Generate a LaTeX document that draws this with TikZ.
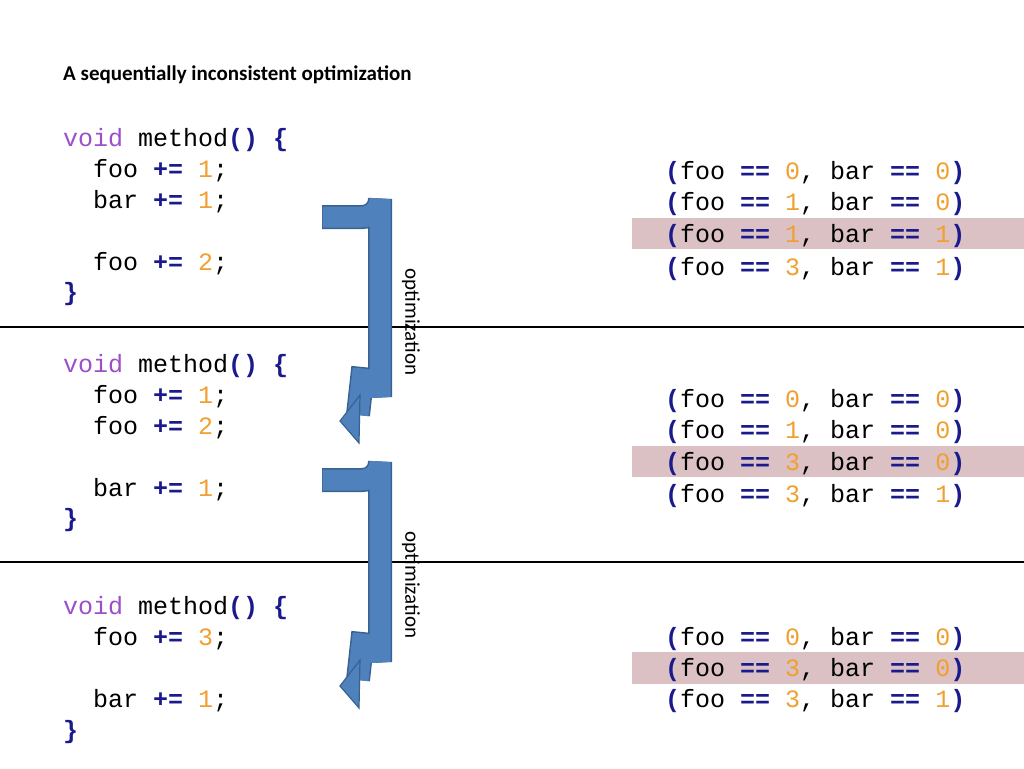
\documentclass[tikz,border=0pt]{standalone}
\usepackage{fontspec}
\setmainfont{Carlito}
\newfontfamily\codefont{Liberation Mono}
\definecolor{kwpurple}{HTML}{9B4FC8}
\definecolor{opblue}{HTML}{1A1A8C}
\definecolor{numorange}{HTML}{F0A030}
\definecolor{hlpink}{HTML}{DBC0C4}
\definecolor{arrowblue}{HTML}{4F81BD}
\definecolor{arrowedge}{HTML}{3A6290}
\newcommand{\kw}[1]{\textcolor{kwpurple}{#1}}
\newcommand{\op}[1]{\textcolor{opblue}{\bfseries #1}}
\newcommand{\nm}[1]{\textcolor{numorange}{#1}}
\newcommand{\ind}{\hspace*{30pt}}
\newcommand{\st}[2]{\op{(}foo \op{==} \nm{#1}, bar \op{==} \nm{#2}\op{)}}
\tikzset{
  code/.style={anchor=base west, inner sep=0pt, font=\codefont\fontsize{25}{25}\selectfont},
  highlight/.style={fill=hlpink, draw=none},
  divider/.style={line width=1.5pt},
  label/.style={font=\fontsize{21}{21}\selectfont, rotate=-90, inner sep=0pt}
}
\newcommand{\bentarrow}[2]{%
  \draw[arrowedge, line width=24pt] (322,#1) -- (362,#1) arc[start angle=90, end angle=0, radius=18] -- (380,#2-18) arc[start angle=0, end angle=-90, radius=18] -- (358,#2);
  \draw[arrowblue, line width=21pt] (322.5,#1) -- (362,#1) arc[start angle=90, end angle=0, radius=18] -- (380,#2-18) arc[start angle=0, end angle=-90, radius=18] -- (358,#2);
  \filldraw[fill=arrowblue, draw=arrowedge, line width=1.2pt] (340,#2+6) -- (360,#2-20) -- (359,#2+28) -- cycle;
}
\begin{document}
\begin{tikzpicture}[x=1pt, y=-1pt]
\useasboundingbox (0,0) rectangle (1024,768);
% highlighted states
\fill[highlight] (632,218) rectangle (1024,249);
\fill[highlight] (632,446) rectangle (1024,477);
\fill[highlight] (632,652) rectangle (1024,684);
% dividers
\draw[divider] (0,327) -- (1024,327);
\draw[divider] (0,562) -- (1024,562);
% arrows
\bentarrow{217}{415}
\bentarrow{480}{680}
\node[label] (opt1) at (411,322) {optimization};
\node[label] (opt2) at (411,585) {optimization};
% title
\node[anchor=base west, inner sep=0pt, font=\bfseries\fontsize{21}{21}\selectfont] (title) at (63,81) {A sequentially inconsistent optimization};
% first method
\node[code] (a1) at (63,146) {\kw{void} method\op{()} \op{\{}};
\node[code] (a2) at (63,177) {\ind foo \op{+=} \nm{1};};
\node[code] (a3) at (63,208) {\ind bar \op{+=} \nm{1};};
\node[code] (a4) at (63,270) {\ind foo \op{+=} \nm{2};};
\node[code] (a5) at (63,300) {\op{\}}};
\node[code] (sa1) at (665,179) {\st{0}{0}};
\node[code] (sa2) at (665,210) {\st{1}{0}};
\node[code] (sa3) at (665,242) {\st{1}{1}};
\node[code] (sa4) at (665,275) {\st{3}{1}};
% second method
\node[code] (b1) at (63,372) {\kw{void} method\op{()} \op{\{}};
\node[code] (b2) at (63,403) {\ind foo \op{+=} \nm{1};};
\node[code] (b3) at (63,434) {\ind foo \op{+=} \nm{2};};
\node[code] (b4) at (63,496) {\ind bar \op{+=} \nm{1};};
\node[code] (b5) at (63,526) {\op{\}}};
\node[code] (sb1) at (665,407) {\st{0}{0}};
\node[code] (sb2) at (665,438) {\st{1}{0}};
\node[code] (sb3) at (665,470) {\st{3}{0}};
\node[code] (sb4) at (665,502) {\st{3}{1}};
% third method
\node[code] (c1) at (63,614) {\kw{void} method\op{()} \op{\{}};
\node[code] (c2) at (63,645) {\ind foo \op{+=} \nm{3};};
\node[code] (c3) at (63,707) {\ind bar \op{+=} \nm{1};};
\node[code] (c4) at (63,738) {\op{\}}};
\node[code] (sc1) at (665,645) {\st{0}{0}};
\node[code] (sc2) at (665,676) {\st{3}{0}};
\node[code] (sc3) at (665,707) {\st{3}{1}};
\end{tikzpicture}
\end{document}
